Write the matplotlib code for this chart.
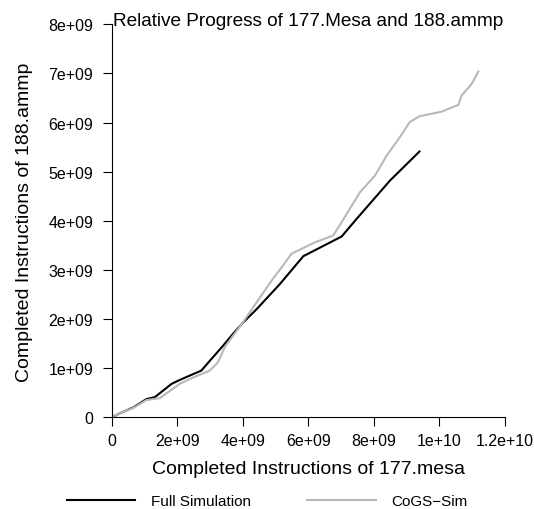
import matplotlib
matplotlib.use("Agg")
import matplotlib.pyplot as plt
from matplotlib.ticker import FuncFormatter

plt.rcParams['font.family'] = ['Liberation Sans', 'DejaVu Sans']

# values in units of 1e9 instructions
full_x = [0, 0.3, 0.65, 1.05, 1.31, 1.82, 2.07, 2.38, 2.73, 2.99, 3.4, 3.7,
          4.01, 4.42, 5.13, 5.85, 7.02, 7.48, 8.5, 9.4]
full_y = [0, 0.1, 0.2, 0.37, 0.41, 0.68, 0.76, 0.85, 0.95, 1.15, 1.46, 1.7,
          1.93, 2.2, 2.71, 3.28, 3.68, 4.04, 4.82, 5.41]

cogs_x = [0, 0.3, 0.65, 1.05, 1.46, 2.07, 2.48, 2.99, 3.24, 3.45, 3.7, 4.0,
          4.42, 4.93, 5.13, 5.49, 6.2, 6.76, 7.02, 7.58, 8.04, 8.4, 8.8,
          9.1, 9.41, 10.07, 10.33, 10.59, 10.69, 11.0, 11.2]
cogs_y = [0, 0.1, 0.19, 0.35, 0.39, 0.68, 0.81, 0.95, 1.12, 1.43, 1.66, 1.93,
          2.34, 2.83, 3.0, 3.33, 3.56, 3.7, 3.97, 4.58, 4.92, 5.33, 5.7,
          6.01, 6.13, 6.22, 6.29, 6.36, 6.55, 6.79, 7.04]

xticks = [0, 2e9, 4e9, 6e9, 8e9, 1e10, 1.2e10]
yticks = [0, 1e9, 2e9, 3e9, 4e9, 5e9, 6e9, 7e9, 8e9]

W, H = 534, 510
fig = plt.figure(figsize=(W / 100, H / 100), dpi=100)
ax = fig.add_axes([112 / W, 91.7 / H, 392.5 / W, 393 / H])

ax.plot([v * 1e9 for v in full_x], [v * 1e9 for v in full_y],
        color='black', linewidth=1.5, label='Full Simulation')
ax.plot([v * 1e9 for v in cogs_x], [v * 1e9 for v in cogs_y],
        color='#b8b8b8', linewidth=1.5, label='CoGS\u2212Sim')

ax.set_xlim(0, 1.2e10)
ax.set_ylim(0, 8e9)
ax.set_xticks(xticks)
ax.set_yticks(yticks)
fmt = FuncFormatter(lambda v, p: '%g' % v)
ax.xaxis.set_major_formatter(fmt)
ax.yaxis.set_major_formatter(fmt)

for s in ['top', 'right']:
    ax.spines[s].set_visible(False)
for s in ['left', 'bottom']:
    ax.spines[s].set_linewidth(0.8)
ax.tick_params(axis='both', direction='out', length=6.5, width=0.8, labelsize=11.5)
ax.tick_params(axis='x', pad=5)
ax.tick_params(axis='y', pad=7)

fig.text(308 / W, 1 - 26 / H, 'Relative Progress of 177.Mesa and 188.ammp',
         ha='center', va='baseline', fontsize=13.7)
fig.text(308 / W, 1 - 474 / H, 'Completed Instructions of 177.mesa',
         ha='center', va='baseline', fontsize=14)
fig.text(29 / W, 1 - 222 / H, 'Completed Instructions of 188.ammp',
         ha='center', va='baseline', fontsize=14, rotation=90,
         rotation_mode='anchor')

fig.legend(loc='center', bbox_to_anchor=(0.5, 1 - 502 / H), ncol=2,
           frameon=False, fontsize=11, handlelength=4.5, handletextpad=1.0,
           columnspacing=3.7, borderpad=0)

fig.savefig('out.png', dpi=100)
